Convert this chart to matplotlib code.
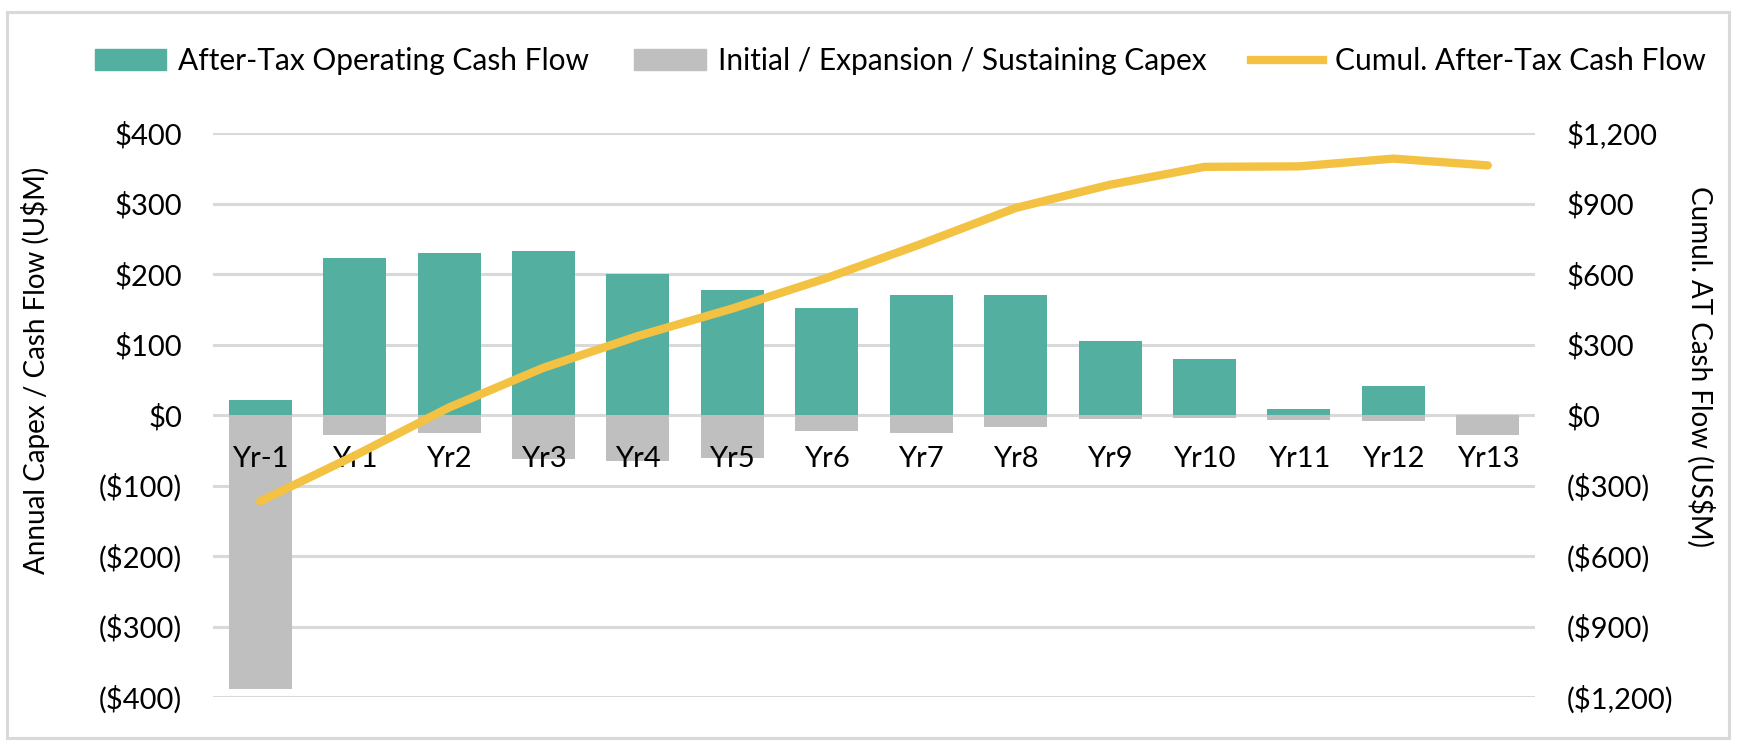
import matplotlib
matplotlib.use("Agg")
import matplotlib.pyplot as plt
import numpy as np
from matplotlib.patches import Patch, Rectangle
from matplotlib.lines import Line2D
from matplotlib.ticker import FuncFormatter

# chart data (US$M)
years = ['Yr-1', 'Yr1', 'Yr2', 'Yr3', 'Yr4', 'Yr5', 'Yr6',
         'Yr7', 'Yr8', 'Yr9', 'Yr10', 'Yr11', 'Yr12', 'Yr13']
op_cash_flow = [21, 223, 230, 232, 200, 178, 152, 170, 170, 105, 80, 9, 41, 0]
capex = [-388, -29, -25, -63, -65, -61, -22, -25, -17, -6, -4, -7, -8, -29]
cumul_cash_flow = [-367, -173, 32, 201, 336, 453, 583, 728, 881, 980, 1056, 1058, 1091, 1062]

teal = "#53B0A0"
grey = "#BFBFBF"
gold = "#F4C242"
grid_col = "#D9D9D9"

plt.rcParams['font.family'] = ['Lato', 'DejaVu Sans']
fs = 21

def money(v, pos=None):
    if v < 0:
        return "(${:,.0f})".format(-v)
    return "${:,.0f}".format(v)

fig = plt.figure(figsize=(17.4, 7.54), dpi=100)
ax = fig.add_axes([213/1740, 1 - 697/754, (1535 - 213)/1740, (697 - 133)/754])
ax2 = ax.twinx()

x = np.arange(len(years))
ax.bar(x, op_cash_flow, width=0.667, color=teal, zorder=2)
ax.bar(x, capex, width=0.667, color=grey, zorder=2)

ax.set_xlim(-0.5, len(years) - 0.5)
ax.set_ylim(-400, 400)
ax.set_yticks(np.arange(-400, 401, 100))
ax.yaxis.set_major_formatter(FuncFormatter(money))
ax.set_xticks([])
for yv in np.arange(-400, 401, 100):
    ax.axhline(yv, color=grid_col, lw=2.2, zorder=1)

# category labels sit just under the zero line
for i, lab in enumerate(years):
    ax.annotate(lab, (i, 0), xytext=(0, -37.4), textcoords="offset points",
                ha='center', va='baseline', fontsize=fs, zorder=3)

ax2.plot(x, cumul_cash_flow, color=gold, lw=6, solid_capstyle='round',
         solid_joinstyle='round', zorder=5)
ax2.set_ylim(-1200, 1200)
ax2.set_yticks(np.arange(-1200, 1201, 300))
ax2.yaxis.set_major_formatter(FuncFormatter(money))

for a in (ax, ax2):
    for s in a.spines.values():
        s.set_visible(False)
    a.tick_params(length=0, labelsize=fs)
ax.tick_params(axis='y', pad=22)
ax2.tick_params(axis='y', pad=23)

fig.text(36/1740, 1 - 370/754, "Annual Capex / Cash Flow (U$M)", rotation=90,
         ha='center', va='center', fontsize=20)
fig.text(1700/1740, 1 - 367/754, "Cumul. AT Cash Flow (US$M)", rotation=270,
         ha='center', va='center', fontsize=20)

handles = [Patch(color=teal, label='After-Tax Operating Cash Flow'),
           Patch(color=grey, label='Initial / Expansion / Sustaining Capex'),
           Line2D([], [], color=gold, lw=6, label='Cumul. After-Tax Cash Flow')]
fig.legend(handles=handles, loc='center', bbox_to_anchor=(900/1740, 1 - 61/754),
           ncol=3, frameon=False, fontsize=fs + 0.5, handlelength=2.4, handleheight=0.7,
           handletextpad=0.4, columnspacing=1.5)

# light grey chart border
fig.patches.append(Rectangle((7/1740, 1 - 738/754), 1722/1740, 726/754,
                             transform=fig.transFigure, fill=False,
                             edgecolor=grid_col, lw=2.2))

fig.savefig("out.png", dpi=100)
